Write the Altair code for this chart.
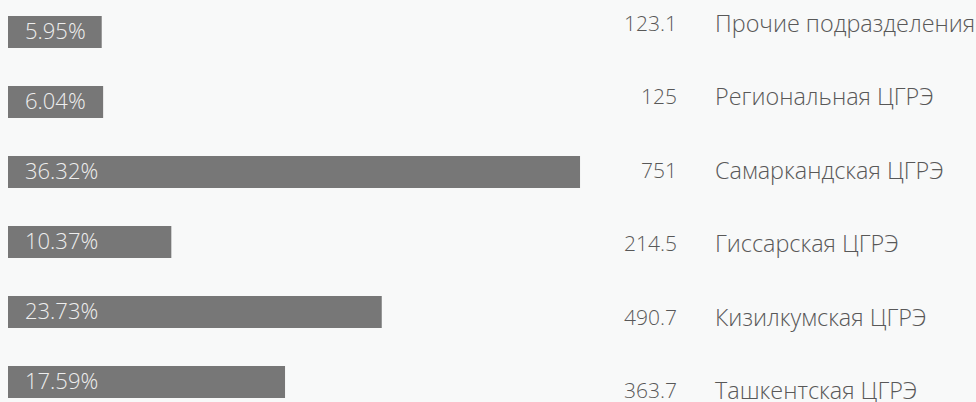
import altair as alt
import pandas as pd

categories = [
    "Прочие подразделения",
    "Региональная ЦГРЭ",
    "Самаркандская ЦГРЭ",
    "Гиссарская ЦГРЭ",
    "Кизилкумская ЦГРЭ",
    "Ташкентская ЦГРЭ",
]
values = [123.1, 125, 751, 214.5, 490.7, 363.7]
percents = [5.95, 6.04, 36.32, 10.37, 23.73, 17.59]

df = pd.DataFrame({
    "cat": categories,
    "val": values,
    "pct": percents,
    "pct_label": [f"{p:.2f}%" for p in percents],
})

FONT = "Open Sans"

xs = alt.Scale(domain=[0, 60], range=[8, 953])
band = alt.Scale(type="band", range=[16, 398], paddingInner=38 / 70, paddingOuter=0)
pts = alt.Scale(type="point", range=[25, 392], padding=0)

y_bar = alt.Y("cat:N", sort=categories, scale=band, axis=None)
y_txt = alt.Y("cat:N", sort=categories, scale=pts, axis=None)

base = alt.Chart(df)

bars = base.mark_bar(color="#777777").encode(
    x=alt.X("pct:Q", scale=xs, axis=None),
    y=y_bar,
)

pct_text = base.mark_text(
    align="left", baseline="middle", color="#eeeeee", font=FONT,
    fontSize=22, fontWeight=300
).encode(
    x=alt.value(25),
    y=y_bar,
    text="pct_label:N",
)

num_text = base.mark_text(
    align="right", baseline="middle", color="#585858", font=FONT,
    fontSize=21, fontWeight=300
).encode(
    x=alt.value(677),
    y=y_txt,
    text="val:N",
)

name_text = base.mark_text(
    align="left", baseline="middle", color="#585858", font=FONT,
    fontSize=23.4, fontWeight=300
).encode(
    x=alt.value(715),
    y=y_txt,
    text="cat:N",
)

chart = (
    alt.layer(bars, pct_text, num_text, name_text)
    .resolve_scale(y="independent")
    .properties(
        width=976,
        height=402,
        background="#f8f9f9",
        padding=0,
        autosize=alt.AutoSizeParams(type="none"),
    )
    .configure_view(stroke=None)
)

chart.save("out.html", embed_options={"renderer": "svg", "actions": False})
